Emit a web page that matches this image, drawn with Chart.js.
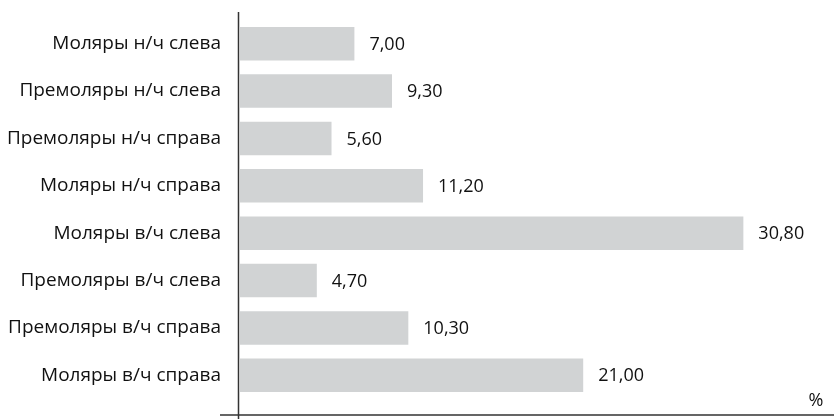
<!DOCTYPE html>
<html>
<head>
<meta charset="utf-8">
<script src="https://cdn.jsdelivr.net/npm/chart.js@4"></script>
<style>
  html, body { margin: 0; padding: 0; background: #fff; }
  #wrap { width: 834px; height: 419px; }
</style>
</head>
<body>
<div id="wrap"><canvas id="myChart"></canvas></div>
<script>
var categories = [
  'Моляры н/ч слева',
  'Премоляры н/ч слева',
  'Премоляры н/ч справа',
  'Моляры н/ч справа',
  'Моляры в/ч слева',
  'Премоляры в/ч слева',
  'Премоляры в/ч справа',
  'Моляры в/ч справа'
];
var percents = [7.00, 9.30, 5.60, 11.20, 30.80, 4.70, 10.30, 21.00];
var unitLabel = '%';

var FONT = '"Open Sans", "Noto Sans", sans-serif';
var TEXT = '#111111';

// value labels, axis lines and the "%" mark
var decor = {
  id: 'decor',
  afterDatasetsDraw: function(chart) {
    var c = chart.ctx;
    var area = chart.chartArea;
    c.save();
    c.font = '18px ' + FONT;
    c.fillStyle = TEXT;
    c.textBaseline = 'middle';
    c.textAlign = 'left';
    chart.getDatasetMeta(0).data.forEach(function(bar, i) {
      c.fillText(percents[i].toFixed(2).replace('.', ','), bar.x + 15, bar.y + 1);
    });

    c.strokeStyle = '#333333';
    c.lineWidth = 1.5;
    c.beginPath();
    c.moveTo(area.left - 1.5, 12);
    c.lineTo(area.left - 1.5, 419);
    c.moveTo(220, area.bottom + 16);
    c.lineTo(834, area.bottom + 16);
    c.stroke();

    c.textAlign = 'center';
    c.fillText(unitLabel, 816, area.bottom + 1.5);
    c.restore();
  }
};

var ctx = document.getElementById('myChart').getContext('2d');
var myChart = new Chart(ctx, {
  type: 'bar',
  data: {
    labels: categories,
    datasets: [{
      data: percents,
      backgroundColor: '#d1d3d4',
      borderWidth: 0,
      categoryPercentage: 1,
      barPercentage: 0.706
    }]
  },
  options: {
    indexAxis: 'y',
    responsive: true,
    maintainAspectRatio: false,
    animation: false,
    layout: { padding: { top: 20, bottom: 20, left: 0, right: 22 } },
    plugins: {
      legend: { display: false },
      tooltip: { enabled: false }
    },
    scales: {
      x: {
        display: false,
        min: 0,
        max: 35
      },
      y: {
        afterFit: function(scale) {
          scale.width = 240;
          scale.paddingTop = 0;
          scale.paddingBottom = 0;
        },
        grid: { display: false, drawTicks: false },
        border: { display: false },
        ticks: {
          color: TEXT,
          padding: 19,
          font: { family: FONT, size: 19 }
        }
      }
    }
  },
  plugins: [decor]
});
</script>
</body>
</html>
